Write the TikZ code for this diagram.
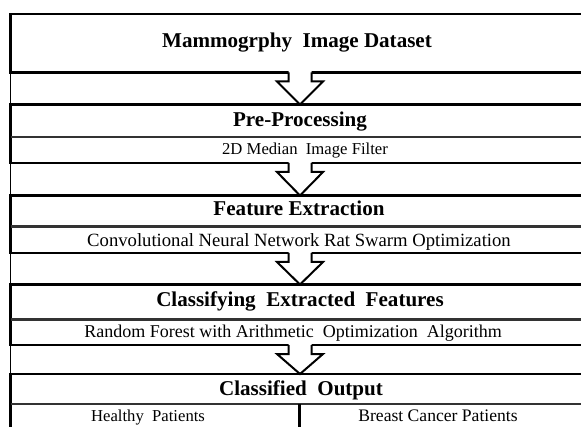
\documentclass[tikz,border=0pt]{standalone}
\usepackage{fontspec}
\setmainfont{Liberation Serif}
\usetikzlibrary{positioning,calc}

\tikzset{
  boxline/.style={line width=2.1pt},
  sepline/.style={line width=1.6pt, black!80},
  blockarrow/.style={line width=1.5pt, line join=miter},
  headtext/.style={font=\fontsize{15.8}{18}\selectfont\bfseries, anchor=base},
  subtext/.style={font=\fontsize{13.5}{16}\selectfont, anchor=base},
}

\begin{document}
\begin{tikzpicture}[x=0.75pt,y=0.75pt,yscale=-1,xscale=1]
\useasboundingbox (0,0) rectangle (581,427);
\clip (0,0) rectangle (581,427);

%Straight Lines: thin frame on the left
\draw [line width=0.8pt] (10.5,14) -- (10.5,440) ;

%Shape: Rectangle [dataset]
\draw [boxline] (10.5,14) rectangle (592,72.5) ;
%Shape: Rectangle [pre-processing]
\draw [boxline] (10.5,104.5) rectangle (592,163) ;
\draw [sepline] (10.5,137) -- (592,137) ;
%Shape: Rectangle [feature extraction]
\draw [boxline] (10.5,195.5) rectangle (592,253) ;
\draw [sepline] (10.5,226.5) -- (592,226.5) ;
%Shape: Rectangle [classifying]
\draw [boxline] (10.5,284.5) rectangle (592,345) ;
\draw [sepline] (10.5,319.5) -- (592,319.5) ;
%Shape: Rectangle [output]
\draw [boxline] (10.5,374) rectangle (592,445) ;
\draw [sepline] (10.5,404) -- (592,404) ;
\draw [boxline] (299.5,404) -- (299.5,445) ;

%Coordinates: box bottoms and tops
\coordinate (d1) at (300,72.5) ;
\coordinate (d2) at (300,104.5) ;
\coordinate (p1) at (300,163) ;
\coordinate (p2) at (300,195.5) ;
\coordinate (f1) at (300,253) ;
\coordinate (f2) at (300,284.5) ;
\coordinate (c1) at (300,345) ;
\coordinate (c2) at (300,374) ;

%Block arrows
\foreach \s/\t in {d1/d2, p1/p2, f1/f2, c1/c2} {
  \fill [white] ($(\s)+(-11.5,-1.5)$) -- ($(\s)+(-11.5,9)$) -- ($(\s)+(-23,9)$) -- (\t) -- ($(\s)+(23,9)$) -- ($(\s)+(11.5,9)$) -- ($(\s)+(11.5,-1.5)$) -- cycle ;
  \draw [blockarrow] ($(\s)+(-11.5,0)$) -- ($(\s)+(-11.5,9)$) -- ($(\s)+(-23,9)$) -- (\t) -- ($(\s)+(23,9)$) -- ($(\s)+(11.5,9)$) -- ($(\s)+(11.5,0)$) ;
}

% Text Node
\node [headtext] (dataset) at (297,48) {Mammogrphy\ \ Image Dataset};
% Text Node
\node [headtext] (pre) at (300,127) {Pre-Processing};
% Text Node
\node [subtext, font=\fontsize{12.5}{15}\selectfont] (median) at (305,155) {2D Median\ \ Image Filter};
% Text Node
\node [headtext] (feat) at (299,216) {Feature Extraction};
% Text Node
\node [subtext, font=\fontsize{14}{16}\selectfont] (cnn) at (299,246.5) {Convolutional Neural Network Rat Swarm Optimization};
% Text Node
\node [headtext] (clsf) at (300,306) {Classifying\ \ Extracted\ \ Features};
% Text Node
\node [subtext] (rf) at (293,337) {Random Forest with Arithmetic\ \ Optimization\ \ Algorithm};
% Text Node
\node [headtext] (out) at (301,395) {Classified\ \ Output};
% Text Node
\node [subtext, font=\fontsize{12.5}{15}\selectfont] (healthy) at (148,421.5) {Healthy\ \ Patients};
% Text Node
\node [subtext, font=\fontsize{13.2}{15}\selectfont] (cancer) at (438,421.5) {Breast Cancer Patients};

\end{tikzpicture}
\end{document}
